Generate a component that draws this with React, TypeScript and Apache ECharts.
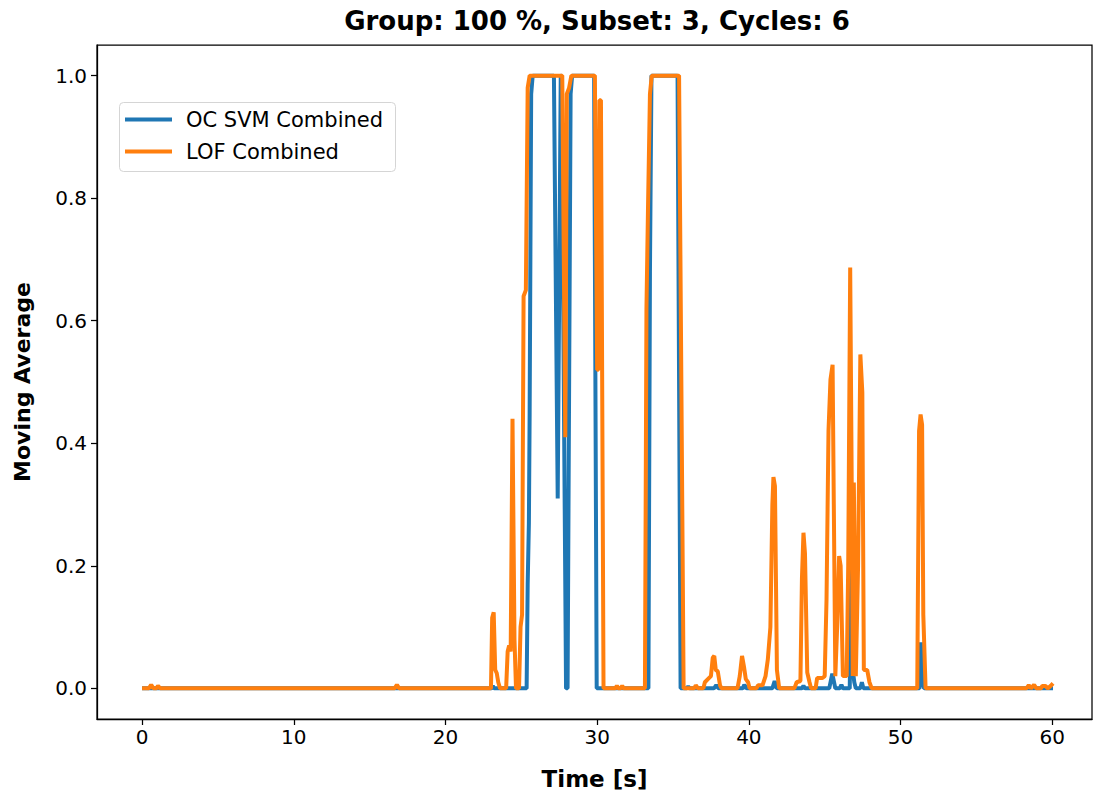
import React, { useEffect, useRef } from "react";
import * as echarts from "echarts";

const chartTitle = "Group: 100 %, Subset: 3, Cycles: 6";
const xName = "Time [s]";
const yName = "Moving Average";
const seriesNames = ["OC SVM Combined", "LOF Combined"];
const xTicks = [0, 10, 20, 30, 40, 50, 60];
const yTicks = [0, 0.2, 0.4, 0.6, 0.8, 1.0];

const svmT = [0, 23.05, 23.12, 23.2, 25.35, 25.42, 25.5, 25.55, 25.65, 25.75, 27.15, 27.4, 27.6, 27.65, 27.95, 28.05, 28.25, 28.35, 29.8, 29.97, 33.38, 33.48, 33.58, 35.3, 35.5, 35.9, 36.0, 36.1, 37.7, 37.85, 38.0, 39.6, 39.7, 39.85, 41.55, 41.7, 41.85, 43.5, 43.6, 43.7, 45.3, 45.5, 45.7, 46.0, 46.1, 46.2, 46.65, 46.75, 46.85, 46.95, 47.05, 47.35, 47.45, 47.55, 51.25, 51.35, 51.45, 51.55, 60.05];
const svmV = [0, 0, 0.004, 0, 0, 0.17, 0.27, 0.45, 0.97, 1, 1, 0.31, 1, 1, 0, 0, 0.97, 1, 1, 0, 0, 0.68, 1, 1, 0, 0, 0.003, 0, 0, 0.005, 0, 0, 0.006, 0, 0, 0.012, 0, 0, 0.004, 0, 0, 0.024, 0, 0, 0.006, 0, 0, 0.197, 0.03, 0.01, 0, 0, 0.01, 0, 0, 0.075, 0.01, 0, 0];

const lofT = [0, 0.45, 0.6, 0.75, 0.95, 1.05, 1.2, 16.65, 16.8, 16.95, 23.0, 23.08, 23.18, 23.28, 23.38, 23.48, 23.6, 24.0, 24.1, 24.2, 24.3, 24.42, 24.55, 24.65, 24.85, 24.95, 25.05, 25.15, 25.3, 25.42, 25.55, 27.7, 27.9, 28.0, 28.15, 28.3, 29.85, 30.0, 30.08, 30.15, 30.25, 30.42, 31.2, 31.3, 31.4, 31.55, 31.65, 31.75, 33.15, 33.25, 33.35, 33.48, 33.6, 35.4, 35.55, 35.7, 36.4, 36.5, 36.65, 37.0, 37.1, 37.3, 37.5, 37.62, 37.72, 37.82, 37.95, 38.1, 38.2, 39.25, 39.4, 39.55, 39.68, 39.8, 39.95, 40.05, 40.5, 40.6, 40.9, 41.1, 41.25, 41.42, 41.55, 41.62, 41.72, 41.85, 42.0, 43.0, 43.15, 43.4, 43.5, 43.6, 43.7, 43.85, 44.0, 44.1, 44.4, 44.5, 44.85, 45.0, 45.12, 45.25, 45.38, 45.52, 45.6, 45.7, 45.82, 45.95, 46.05, 46.2, 46.45, 46.55, 46.68, 46.78, 46.85, 46.92, 47.05, 47.2, 47.35, 47.48, 47.58, 47.8, 47.95, 48.1, 51.1, 51.22, 51.32, 51.42, 51.5, 51.65, 58.3, 58.45, 58.6, 58.8, 58.95, 59.25, 59.35, 59.55, 59.7, 59.9, 60.05];
const lofV = [0, 0, 0.006, 0, 0, 0.004, 0, 0, 0.006, 0, 0, 0.115, 0.124, 0.03, 0.025, 0.01, 0, 0, 0.06, 0.07, 0.06, 0.44, 0.08, 0, 0, 0.1, 0.12, 0.64, 0.65, 0.98, 1, 1, 0.41, 0.97, 0.98, 1, 1, 0.52, 0.52, 0.96, 0.96, 0, 0, 0.004, 0, 0, 0.004, 0, 0, 0.62, 0.78, 0.97, 1, 1, 0.5, 0, 0, 0.005, 0, 0, 0.01, 0.015, 0.02, 0.05, 0.053, 0.03, 0.028, 0.005, 0, 0, 0.02, 0.053, 0.035, 0.015, 0.01, 0, 0, 0.005, 0.005, 0.02, 0.047, 0.1, 0.3, 0.345, 0.33, 0.03, 0, 0, 0.01, 0.012, 0.18, 0.254, 0.22, 0.026, 0.01, 0, 0, 0.017, 0.017, 0.02, 0.145, 0.42, 0.504, 0.528, 0.3, 0.02, 0.1, 0.216, 0.2, 0.02, 0.02, 0.2, 0.687, 0.336, 0.02, 0.336, 0.02, 0.2, 0.545, 0.483, 0.03, 0.03, 0.01, 0, 0, 0.42, 0.447, 0.43, 0.12, 0, 0, 0.005, 0, 0.006, 0, 0, 0.004, 0.004, 0, 0.004, 0.008];

const FONT = "DejaVu Sans";
const BLUE = "#1f77b4";
const ORANGE = "#ff7f0e";

function zip(t: number[], v: number[]) {
  return t.map((x, i) => [x, v[i]]);
}

export default function App() {
  const ref = useRef<HTMLDivElement>(null);
  useEffect(() => {
    if (!ref.current) return;
    const chart = echarts.init(ref.current, null, { renderer: "svg" });
    chart.setOption({
      animation: false,
      backgroundColor: "#ffffff",
      grid: {
        left: 97,
        top: 45,
        width: 995,
        height: 674,
        show: true,
        borderColor: "#000",
        borderWidth: 1.25,
        backgroundColor: "transparent",
      },
      graphic: [
        {
          type: "text",
          x: 597,
          y: 21,
          style: {
            text: chartTitle,
            textAlign: "center",
            textVerticalAlign: "middle",
            font: `bold 26px "${FONT}"`,
            fill: "#000",
          },
        },
        {
          type: "rect",
          z: 10,
          shape: { x: 119.5, y: 102.5, width: 276, height: 69, r: 4 },
          style: { fill: "rgba(255,255,255,0.8)", stroke: "#d5d5d5", lineWidth: 1 },
        },
      ],
      legend: {
        z: 20,
        left: 125,
        top: 109,
        orient: "vertical",
        padding: 0,
        itemWidth: 47,
        itemHeight: 4,
        itemGap: 11,
        icon: "rect",
        data: seriesNames,
        textStyle: {
          fontFamily: FONT,
          fontSize: 21,
          color: "#000",
          lineHeight: 21,
          padding: [0, 0, 0, 9],
        },
      },
      xAxis: {
        type: "value",
        min: -2.97,
        max: 62.62,
        name: xName,
        nameLocation: "middle",
        nameGap: 48,
        nameTextStyle: { fontFamily: FONT, fontSize: 23, fontWeight: "bold", color: "#000" },
        axisLine: { show: true, onZero: false, lineStyle: { color: "#000", width: 1.25 } },
        axisTick: { show: true, length: 6, lineStyle: { color: "#000", width: 1.25 }, customValues: xTicks },
        axisLabel: {
          fontFamily: FONT,
          fontSize: 20,
          color: "#000",
          margin: 8,
          customValues: xTicks,
          formatter: (v: number) => String(v),
        },
        splitLine: { show: false },
      },
      yAxis: {
        type: "value",
        min: -0.05,
        max: 1.05,
        name: yName,
        nameLocation: "middle",
        nameGap: 64,
        nameRotate: 90,
        nameTextStyle: { fontFamily: FONT, fontSize: 22, fontWeight: "bold", color: "#000" },
        axisLine: { show: true, onZero: false, lineStyle: { color: "#000", width: 1.25 } },
        axisTick: { show: true, length: 6, lineStyle: { color: "#000", width: 1.25 }, customValues: yTicks },
        axisLabel: {
          fontFamily: FONT,
          fontSize: 20,
          color: "#000",
          margin: 10,
          customValues: yTicks,
          formatter: (v: number) => v.toFixed(1),
        },
        splitLine: { show: false },
      },
      series: [
        {
          name: seriesNames[0],
          type: "line",
          data: zip(svmT, svmV),
          showSymbol: false,
          symbol: "none",
          color: BLUE,
          lineStyle: { color: BLUE, width: 4 },
          z: 2,
        },
        {
          name: seriesNames[1],
          type: "line",
          data: zip(lofT, lofV),
          showSymbol: false,
          symbol: "none",
          color: ORANGE,
          lineStyle: { color: ORANGE, width: 4 },
          z: 3,
        },
      ],
    });
    return () => chart.dispose();
  }, []);
  return (
    <div
      ref={ref}
      style={{ position: "absolute", left: 0, top: 0, width: 1094, height: 796 }}
    />
  );
}
